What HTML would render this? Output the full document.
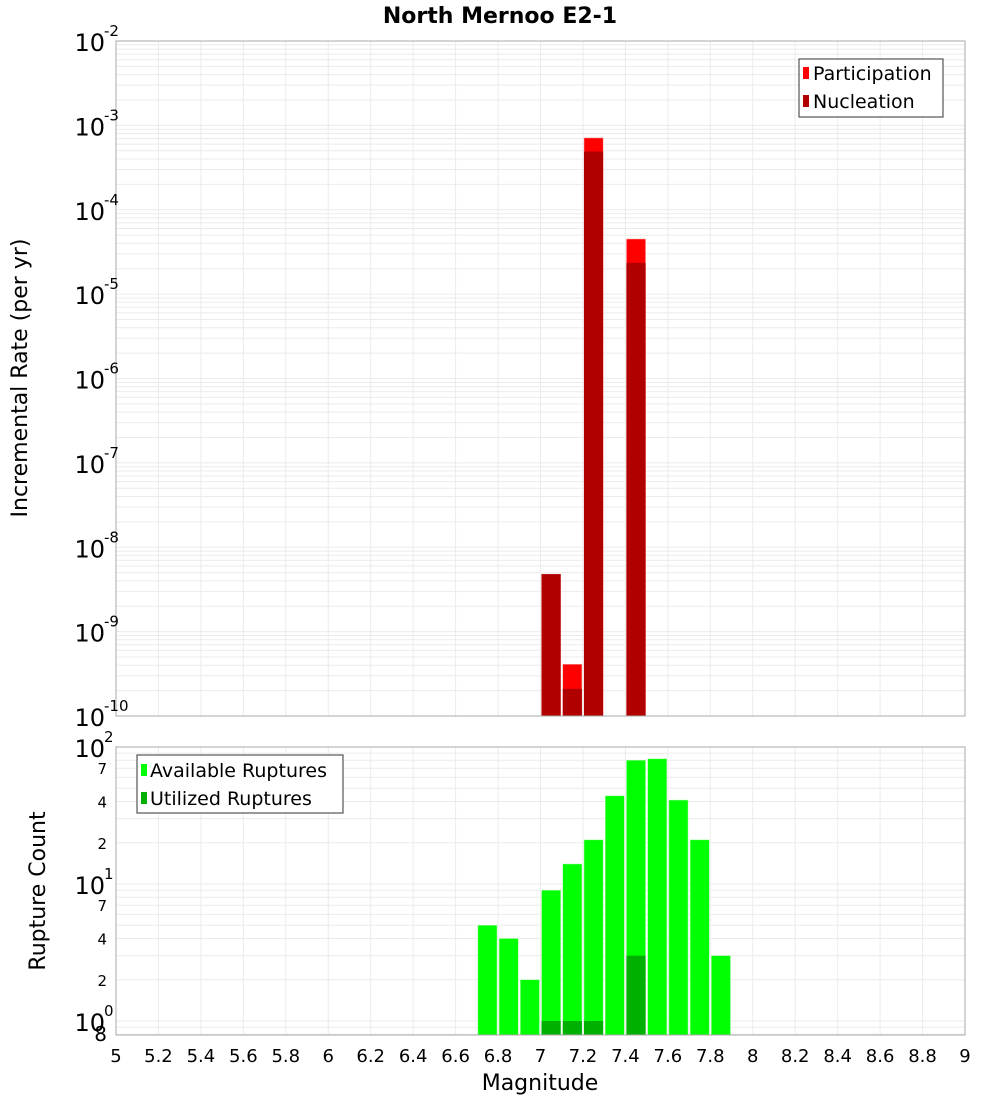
<!DOCTYPE html>
<html><head><meta charset="utf-8"><style>
body{margin:0;background:#fff;font-family:"Liberation Sans","DejaVu Sans",sans-serif;}
svg text{font-family:"DejaVu Sans","Liberation Sans",sans-serif;}
</style></head><body>
<svg id="chart" width="1000" height="1100" xmlns="http://www.w3.org/2000/svg">
<text x="500" y="23" text-anchor="middle" font-size="22" font-weight="bold">North Mernoo E2-1</text>
<g id="topPlot"></g><g id="botPlot"></g>
<text transform="translate(27,378) rotate(-90)" text-anchor="middle" font-size="22">Incremental Rate (per yr)</text>
<text transform="translate(45,891) rotate(-90)" text-anchor="middle" font-size="22">Rupture Count</text>
<text x="540" y="1090" text-anchor="middle" font-size="22">Magnitude</text>
<g>
<rect x="799" y="59" width="144" height="58" fill="#fff" stroke="#333"/>
<rect x="803" y="67" width="6" height="12" fill="#ff0000"/>
<text x="813" y="80" font-size="19">Participation</text>
<rect x="803" y="95" width="6" height="12" fill="#b00000"/>
<text x="813" y="108" font-size="19">Nucleation</text>
</g>
<g>
<rect x="137" y="755" width="206" height="58" fill="#fff" stroke="#333"/>
<rect x="141" y="764" width="6" height="12" fill="#00ff00"/>
<text x="150" y="777" font-size="19">Available Ruptures</text>
<rect x="141" y="792" width="6" height="12" fill="#00b000"/>
<text x="150" y="805" font-size="19">Utilized Ruptures</text>
</g>
</svg>
<script>
const NS="http://www.w3.org/2000/svg";
const topMags=[7.05,7.15,7.25,7.45];
const participation=[4.8e-9,4.1e-10,7.1e-4,4.5e-5];
const nucleation=[4.8e-9,2.1e-10,4.9e-4,2.35e-5];
const botMags=[6.75,6.85,6.95,7.05,7.15,7.25,7.35,7.45,7.55,7.65,7.75,7.85];
const available=[5,4,2,9,14,21,44,80,82,41,21,3];
const utilized=[0,0,0,1,1,1,0,3,0,0,0,0];
const xTicks=[5,5.2,5.4,5.6,5.8,6,6.2,6.4,6.6,6.8,7,7.2,7.4,7.6,7.8,8,8.2,8.4,8.6,8.8,9];
const topDecades=[-10,-9,-8,-7,-6,-5,-4,-3,-2];
const botDecades=[0,1,2];
const botMinorLabels=[2,4,7];

const X0=116,X1=965;
const xs=m=>X0+(m-5)/4*(X1-X0);
const T0=41,T1=716;
const ty=v=>T0+(-2-Math.log10(v))*(T1-T0)/8;
const B0=747,B1=1035;
const by=v=>B0+(2-Math.log10(v))*137;
function el(p,t,a){const e=document.createElementNS(NS,t);for(const k in a)e.setAttribute(k,a[k]);p.appendChild(e);return e;}
const gTop=document.getElementById('topPlot'),gBot=document.getElementById('botPlot');
function grids(g,y0,y1,yf,decs){
 for(const m of xTicks){const l=el(g,'line',{x1:xs(m),x2:xs(m),y1:y0,y2:y1,stroke:'#ebebeb'});
 
 }
 for(let d=decs[0]-1;d<=decs[decs.length-1];d++)for(let k=1;k<10;k++){const v=k*Math.pow(10,d);const y=yf(v);
  if(y<y0-0.5||y>y1+0.5)continue;
  const l=el(g,'line',{x1:X0,x2:X1,y1:y,y2:y,stroke:'#ebebeb'});
  
  }
}
grids(gTop,T0,T1,ty,topDecades);
grids(gBot,B0,B1,by,botDecades);
const bw=0.09*(X1-X0)/4;
topMags.forEach((m,i)=>{
 const r=el(gTop,'rect',{x:xs(m)-bw/2,y:ty(participation[i]),width:bw,height:T1-ty(participation[i]),fill:'#ff0000',stroke:'#ffaaaa','stroke-width':0.5});
 
 
 const n=el(gTop,'rect',{x:xs(m)-bw/2,y:ty(nucleation[i]),width:bw,height:T1-ty(nucleation[i]),fill:'#b00000'});
 
 
});
botMags.forEach((m,i)=>{
 const r=el(gBot,'rect',{x:xs(m)-bw/2,y:by(available[i]),width:bw,height:B1-by(available[i]),fill:'#00ff00',stroke:'#aaffaa','stroke-width':0.5});
 
 
 if(utilized[i]>0){const u=el(gBot,'rect',{x:xs(m)-bw/2,y:by(utilized[i]),width:bw,height:B1-by(utilized[i]),fill:'#00b000'});
 
 }
});
el(gTop,'rect',{x:X0,y:T0,width:X1-X0,height:T1-T0,fill:'none',stroke:'#aaa'});
el(gBot,'rect',{x:X0,y:B0,width:X1-X0,height:B1-B0,fill:'none',stroke:'#aaa'});
topDecades.forEach(d=>{const y=ty(Math.pow(10,d));
 const t=el(gTop,'text',{x:105,y:y+10,'text-anchor':'end','font-size':24});t.textContent='10';
 
 
 const s=el(gTop,'text',{x:104,y:y-5,'font-size':15});s.textContent=String(d);
 
 });
botDecades.forEach(d=>{const y=by(Math.pow(10,d));
 const t=el(gBot,'text',{x:105,y:y+10,'text-anchor':'end','font-size':24});t.textContent='10';
 
 
 const s=el(gBot,'text',{x:104,y:y-5,'font-size':15});s.textContent=String(d);
 
 });
[0,1].forEach(d=>botMinorLabels.forEach(k=>{const y=by(k*Math.pow(10,d));
 const t=el(gBot,'text',{x:107,y:y+6,'text-anchor':'end','font-size':15});t.textContent=String(k);
 
 }));
const e8=el(gBot,'text',{x:107,y:1041,'text-anchor':'end','font-size':20});e8.textContent='8';


xTicks.forEach(m=>{const t=el(gBot,'text',{x:xs(m),y:1062,'text-anchor':'middle','font-size':18});
 t.textContent=String(m);
 
 });
</script>
</body></html>
